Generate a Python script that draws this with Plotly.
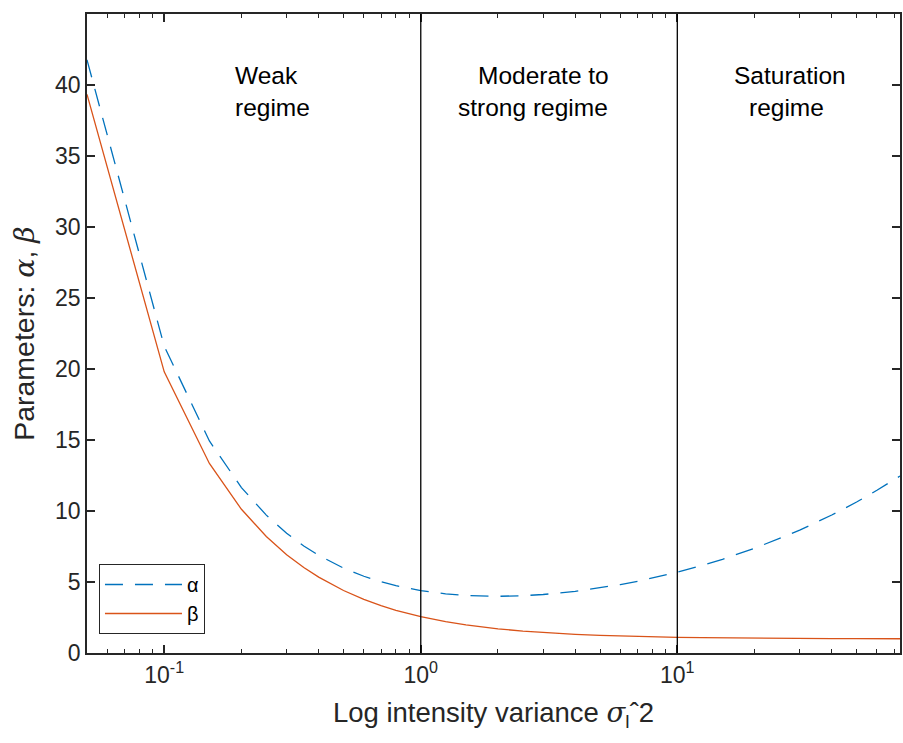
import plotly.graph_objects as go
import math

# Log intensity variance (Rytov variance) sample points
sigma2 = [0.05, 0.1, 0.15, 0.2, 0.25, 0.3, 0.35, 0.4, 0.5, 0.6, 0.7, 0.8, 1.0,
          1.25, 1.5, 2, 2.5, 3, 4, 5, 6, 7, 8, 10, 12.5, 15, 20, 25, 30, 40,
          50, 60, 73.8]
alpha = [41.77, 21.6, 14.93, 11.65, 9.71, 8.43, 7.54, 6.875, 5.98, 5.405, 5.017,
         4.743, 4.394, 4.164, 4.052, 3.994, 4.035, 4.120, 4.341, 4.580, 4.818,
         5.049, 5.273, 5.688, 6.164, 6.599, 7.372, 8.048, 8.651, 9.717, 10.63,
         11.46, 12.46]
beta = [39.34, 19.8, 13.35, 10.12, 8.20, 6.92, 6.02, 5.34, 4.40, 3.78, 3.34,
        3.01, 2.564, 2.211, 1.981, 1.702, 1.540, 1.435, 1.309, 1.236, 1.190,
        1.157, 1.134, 1.1015, 1.077, 1.061, 1.0424, 1.032, 1.0243, 1.017,
        1.0117, 1.0085, 1.005]

regime_bounds = [1, 10]
y_ticks = [0, 5, 10, 15, 20, 25, 30, 35, 40]
x_ticks = [0.1, 1, 10]
x_ticktext = ["10<sup>-1</sup>", "10<sup>0</sup>", "10<sup>1</sup>"]
x_minor_ticks = [0.06, 0.07, 0.08, 0.09,
                 0.2, 0.3, 0.4, 0.5, 0.6, 0.7, 0.8, 0.9,
                 2, 3, 4, 5, 6, 7, 8, 9,
                 20, 30, 40, 50, 60, 70]
x_range = [0.05, 73.8]
y_range = [0, 45]

BLUE = "#0072BD"
ORANGE = "#D95319"
AX = "#262626"
FONT = "Liberation Sans, Arial, Helvetica, sans-serif"

W, H = 903, 743
ML, MR, MT, MB = 87, 1, 14, 90
PW = W - ML - MR
PH = H - MT - MB

def px2paper_x(px):
    return (px - ML) / PW

def px2paper_y(py):
    return (H - MB - py) / PH

xr = [math.log10(x_range[0]), math.log10(x_range[1])]

fig = go.Figure()
fig.add_trace(go.Scatter(x=sigma2, y=alpha, mode="lines", name="α",
                         line=dict(color=BLUE, width=1.3, dash="18px,12px")))
fig.add_trace(go.Scatter(x=sigma2, y=beta, mode="lines", name="β",
                         line=dict(color=ORANGE, width=1.3)))
# invisible carrier trace for the minor-tick overlay axis
fig.add_trace(go.Scatter(x=[x_range[0]], y=[y_range[0]], xaxis="x2", mode="lines",
                         showlegend=False, hoverinfo="skip", opacity=0))

for xb in regime_bounds:
    fig.add_shape(type="line", xref="x", yref="paper", x0=xb, x1=xb, y0=0, y1=1,
                  line=dict(color="black", width=1.3), layer="above")

# regime labels: (text, left px, center y px)
labels = [("Weak", 235, 76), ("regime", 235, 107),
          ("Moderate to", 479, 76), ("strong regime", 459, 107),
          ("Saturation", 736, 76), ("regime", 751, 107)]
for t, lx, cy in labels:
    fig.add_annotation(text=t, xref="paper", yref="paper",
                       x=px2paper_x(lx - 2), y=px2paper_y(cy),
                       xanchor="left", yanchor="middle", showarrow=False,
                       font=dict(family=FONT, size=24.5, color="black"))

fig.update_layout(
    width=W, height=H,
    margin=dict(l=ML, r=MR, t=MT, b=MB, pad=0),
    paper_bgcolor="white", plot_bgcolor="white",
    font=dict(family=FONT, size=23, color=AX),
    showlegend=True,
    legend=dict(x=px2paper_x(99), y=px2paper_y(634), xanchor="left", yanchor="bottom",
                bgcolor="white", bordercolor=AX, borderwidth=1,
                font=dict(family=FONT, size=20, color="black"),
                itemwidth=77, tracegroupgap=0),
    xaxis=dict(type="log", range=xr,
               tickvals=x_ticks, ticktext=x_ticktext,
               ticks="inside", ticklen=8, tickwidth=1.6, tickcolor=AX,
               showline=True, linecolor=AX, linewidth=1.8, mirror="ticks",
               showgrid=False, zeroline=False, layer="above traces",
               tickfont=dict(size=23, color=AX),
               title=dict(text="Log intensity variance <span style=\"font-family:DejaVu Serif\"><i>σ</i></span><sub>l</sub>ˆ2",
                          font=dict(size=27.5, color=AX), standoff=16)),
    xaxis2=dict(type="log", range=xr, overlaying="x", anchor="y", side="bottom",
                tickmode="array", tickvals=x_minor_ticks, showticklabels=False,
                ticks="inside", ticklen=4, tickwidth=1.4, tickcolor=AX,
                showline=True, linecolor=AX, linewidth=1.8, mirror="ticks",
                showgrid=False, zeroline=False, layer="above traces"),
    yaxis=dict(range=y_range, tickvals=y_ticks,
               ticks="inside", ticklen=8, tickwidth=1.6, tickcolor=AX,
               showline=True, linecolor=AX, linewidth=1.8, mirror="ticks",
               showgrid=False, zeroline=False, layer="above traces",
               tickfont=dict(size=23, color=AX),
               title=dict(text="Parameters: <span style=\"font-family:DejaVu Serif\"><i>α</i></span>, <span style=\"font-family:DejaVu Serif\"><i>β</i></span>",
                          font=dict(size=28.5, color=AX), standoff=12)),
)

fig.write_html("out.html")
